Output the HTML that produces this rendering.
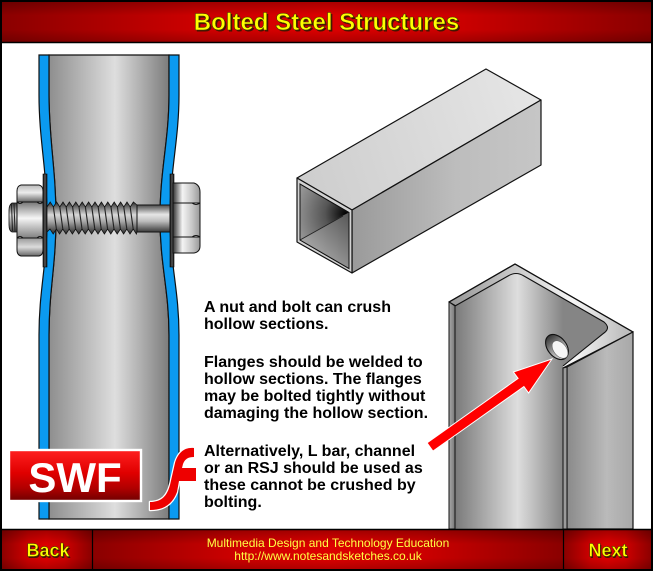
<!DOCTYPE html>
<html><head><meta charset="utf-8">
<style>
html,body{margin:0;padding:0;background:#fff;}
svg{display:block;}
text{font-family:"Liberation Sans",Arial,Helvetica,sans-serif;}
</style></head><body>
<svg width="653" height="571" viewBox="0 0 653 571" xmlns="http://www.w3.org/2000/svg">
<defs>
 <linearGradient id="hdr" x1="0" y1="0" x2="1" y2="0">
  <stop offset="0" stop-color="#8a0000"/><stop offset="0.3" stop-color="#cc0000"/><stop offset="0.5" stop-color="#dc0000"/><stop offset="0.7" stop-color="#cc0000"/><stop offset="1" stop-color="#8a0000"/>
 </linearGradient>
 <linearGradient id="hdrV" x1="0" y1="0" x2="0" y2="1">
  <stop offset="0" stop-color="#000" stop-opacity="0.25"/><stop offset="0.35" stop-color="#000" stop-opacity="0"/><stop offset="0.7" stop-color="#000" stop-opacity="0"/><stop offset="1" stop-color="#000" stop-opacity="0.2"/>
 </linearGradient>
 <linearGradient id="pipe" gradientUnits="userSpaceOnUse" x1="49" y1="0" x2="169" y2="0">
  <stop offset="0" stop-color="#8e8e8e"/><stop offset="0.55" stop-color="#dedede"/><stop offset="1" stop-color="#7c7c7c"/>
 </linearGradient>
 <linearGradient id="lface" gradientUnits="userSpaceOnUse" x1="455" y1="0" x2="563" y2="0">
  <stop offset="0" stop-color="#7a7a7a"/><stop offset="0.58" stop-color="#dedede"/><stop offset="1" stop-color="#858585"/>
 </linearGradient>
 <linearGradient id="rface" gradientUnits="userSpaceOnUse" x1="567" y1="0" x2="633" y2="0">
  <stop offset="0" stop-color="#8a8a8a"/><stop offset="0.6" stop-color="#bababa"/><stop offset="1" stop-color="#a8a8a8"/>
 </linearGradient>
 <linearGradient id="lstrip" gradientUnits="userSpaceOnUse" x1="449" y1="0" x2="455" y2="0">
  <stop offset="0" stop-color="#a8a8a8"/><stop offset="1" stop-color="#777"/>
 </linearGradient>
 <linearGradient id="rim" gradientUnits="userSpaceOnUse" x1="455" y1="0" x2="625" y2="0">
  <stop offset="0" stop-color="#9a9a9a"/><stop offset="0.4" stop-color="#d0d0d0"/><stop offset="0.7" stop-color="#f6f6f6"/><stop offset="1" stop-color="#bdbdbd"/>
 </linearGradient>
 <linearGradient id="hole" x1="0" y1="0" x2="1" y2="0">
  <stop offset="0" stop-color="#333"/><stop offset="0.6" stop-color="#aaa"/><stop offset="1" stop-color="#ddd"/>
 </linearGradient>
 <linearGradient id="boxTop" gradientUnits="userSpaceOnUse" x1="297" y1="178" x2="541" y2="100">
  <stop offset="0" stop-color="#cdcdcd"/><stop offset="1" stop-color="#e6e6e6"/>
 </linearGradient>
 <linearGradient id="boxSide" gradientUnits="userSpaceOnUse" x1="352" y1="0" x2="541" y2="0">
  <stop offset="0" stop-color="#9a9a9a"/><stop offset="0.55" stop-color="#bdbdbd"/><stop offset="1" stop-color="#c6c6c6"/>
 </linearGradient>
 <radialGradient id="boxIn" gradientUnits="userSpaceOnUse" cx="346" cy="214" r="60">
  <stop offset="0" stop-color="#000"/><stop offset="0.35" stop-color="#555"/><stop offset="1" stop-color="#aaa"/>
 </radialGradient>
 <linearGradient id="boxFloor" gradientUnits="userSpaceOnUse" x1="305" y1="255" x2="348" y2="215">
  <stop offset="0" stop-color="#b0b0b0"/><stop offset="1" stop-color="#5a5a5a"/>
 </linearGradient>
 <linearGradient id="swf" x1="0" y1="0" x2="0" y2="1">
  <stop offset="0" stop-color="#ff2020"/><stop offset="0.45" stop-color="#e00000"/><stop offset="0.75" stop-color="#b00000"/><stop offset="1" stop-color="#700000"/>
 </linearGradient>
 <linearGradient id="nutTop" x1="0" y1="0" x2="0" y2="1">
  <stop offset="0" stop-color="#bbb"/><stop offset="0.45" stop-color="#ececec"/><stop offset="1" stop-color="#666"/>
 </linearGradient>
 <linearGradient id="nutMid" x1="0" y1="0" x2="0" y2="1">
  <stop offset="0" stop-color="#777"/><stop offset="0.45" stop-color="#f6f6f6"/><stop offset="1" stop-color="#808080"/>
 </linearGradient>
 <linearGradient id="nutBot" x1="0" y1="0" x2="0" y2="1">
  <stop offset="0" stop-color="#999"/><stop offset="0.5" stop-color="#dcdcdc"/><stop offset="1" stop-color="#666"/>
 </linearGradient>
 <linearGradient id="head" gradientUnits="userSpaceOnUse" x1="173" y1="0" x2="200" y2="0">
  <stop offset="0" stop-color="#333"/><stop offset="0.35" stop-color="#f4f4f4"/><stop offset="0.7" stop-color="#c8c8c8"/><stop offset="1" stop-color="#999"/>
 </linearGradient>
 <linearGradient id="shank" gradientUnits="userSpaceOnUse" x1="0" y1="205" x2="0" y2="232">
  <stop offset="0" stop-color="#4a4a4a"/><stop offset="0.35" stop-color="#e6e6e6"/><stop offset="0.6" stop-color="#bdbdbd"/><stop offset="1" stop-color="#3a3a3a"/>
 </linearGradient>
 <linearGradient id="thread" gradientUnits="userSpaceOnUse" x1="0" y1="202" x2="0" y2="234">
  <stop offset="0" stop-color="#2a2a2a"/><stop offset="0.4" stop-color="#d8d8d8"/><stop offset="0.6" stop-color="#aaaaaa"/><stop offset="1" stop-color="#2a2a2a"/>
 </linearGradient>
 <linearGradient id="washer" x1="0" y1="0" x2="1" y2="0">
  <stop offset="0" stop-color="#111"/><stop offset="0.5" stop-color="#555"/><stop offset="1" stop-color="#111"/>
 </linearGradient>
</defs>

<!-- page frame -->
<rect x="1" y="1" width="651" height="569" fill="#fff" stroke="#000" stroke-width="2"/>

<!-- ===== Pipe ===== -->
<path d="M49,55 L169,55 L169,95 C169,140 160,170 160,218 C160,265 169,290 169,335 L169,519 L49,519 L49,335 C49,290 56,265 56,218 C56,170 49,140 49,95 Z" fill="url(#pipe)" stroke="#111" stroke-width="1.2"/>
<path d="M39,55 L49,55 L49,95 C49,140 56,170 56,218 C56,265 49,290 49,335 L49,519 L39,519 L39,335 C39,290 47,265 47,218 C47,170 39,140 39,95 Z" fill="#0b9af0" stroke="#111" stroke-width="1.2"/>
<path d="M169,55 L179,55 L179,95 C179,140 170,170 170,218 C170,265 179,290 179,335 L179,519 L169,519 L169,335 C169,290 160,265 160,218 C160,170 169,140 169,95 Z" fill="#0b9af0" stroke="#111" stroke-width="1.2"/>

<!-- washers -->
<rect x="43" y="174" width="4" height="93" fill="url(#washer)" stroke="#000" stroke-width="0.6"/>
<rect x="170" y="174" width="4" height="93" fill="url(#washer)" stroke="#000" stroke-width="0.6"/>

<!-- threaded part -->
<path d="M47,207 L50.2,202 L53.4,207 L56.6,202 L59.8,207 L63,202 L66.2,207 L69.4,202 L72.6,207 L75.8,202 L79,207 L82.2,202 L85.4,207 L88.6,202 L91.8,207 L95,202 L98.2,207 L101.4,202 L104.6,207 L107.8,202 L111,207 L114.2,202 L117.4,207 L120.6,202 L123.8,207 L127,202 L130.2,207 L133.4,202 L137,205 L137,232 L136.4,234 L133.2,229 L130,234 L126.8,229 L123.6,234 L120.4,229 L117.2,234 L114,229 L110.8,234 L107.6,229 L104.4,234 L101.2,229 L98,234 L94.8,229 L91.6,234 L88.4,229 L85.2,234 L82,229 L78.8,234 L75.6,229 L72.4,234 L69.2,229 L66,234 L62.8,229 L59.6,234 L56.4,229 L53.2,234 L50,229 L47,232 Z" fill="url(#thread)" stroke="#111" stroke-width="0.8"/>
<g stroke="#222" stroke-width="1.1">
 <line x1="53.4" y1="207" x2="56.4" y2="229"/><line x1="59.8" y1="207" x2="62.8" y2="229"/><line x1="66.2" y1="207" x2="69.2" y2="229"/><line x1="72.6" y1="207" x2="75.6" y2="229"/><line x1="79" y1="207" x2="82" y2="229"/><line x1="85.4" y1="207" x2="88.4" y2="229"/><line x1="91.8" y1="207" x2="94.8" y2="229"/><line x1="98.2" y1="207" x2="101.2" y2="229"/><line x1="104.6" y1="207" x2="107.6" y2="229"/><line x1="111" y1="207" x2="114" y2="229"/><line x1="117.4" y1="207" x2="120.4" y2="229"/><line x1="123.8" y1="207" x2="126.8" y2="229"/><line x1="130.2" y1="207" x2="133.2" y2="229"/>
</g>
<!-- plain shank -->
<rect x="137" y="205" width="33" height="27" fill="url(#shank)" stroke="#111" stroke-width="1"/>

<!-- bolt end sticking out left -->
<path d="M17,203 L12,203 Q9,205 9,210 L9,225 Q9,231 12,232 L17,232 Z" fill="url(#thread)" stroke="#111" stroke-width="0.8"/>
<g stroke="#222" stroke-width="1"><line x1="11.5" y1="204" x2="12.5" y2="231"/><line x1="14" y1="203" x2="15" y2="232"/></g>

<!-- left nut -->
<path d="M21,185 L39,185 Q43,186 43,191 L43,202 L17,202 L17,191 Q17,186 21,185 Z" fill="url(#nutTop)" stroke="#111" stroke-width="1"/>
<path d="M17,202 Q20,205 23,202 L37,202 Q40,205 43,202 L43,238 Q40,235 37,238 L23,238 Q20,235 17,238 Z" fill="url(#nutMid)" stroke="#111" stroke-width="1"/>
<path d="M17,238 L43,238 L43,250 Q43,255 39,256 L21,256 Q17,255 17,250 Z" fill="url(#nutBot)" stroke="#111" stroke-width="1"/>

<!-- right bolt head -->
<path d="M173,183 L194,183 Q200,185 200,192 L200,203 L173,203 Z" fill="url(#head)" stroke="#111" stroke-width="1"/>
<path d="M173,203 L192,203 Q196,206 200,203 L200,237 Q196,234 192,237 L173,237 Z" fill="url(#head)" stroke="#111" stroke-width="1"/>
<path d="M173,237 L200,237 L200,246 Q200,252 194,253 L173,253 Z" fill="url(#head)" stroke="#111" stroke-width="1"/>

<!-- ===== Hollow box section ===== -->
<path d="M297,178 L486,69 L541,100 L352,210 Z" fill="url(#boxTop)" stroke="#111" stroke-width="1.2" stroke-linejoin="round"/>
<path d="M352,210 L541,100 L541,165 L352,273 Z" fill="url(#boxSide)" stroke="#111" stroke-width="1.2" stroke-linejoin="round"/>
<path d="M297,178 L352,210 L352,273 L297,242 Z" fill="#d2d2d2" stroke="#111" stroke-width="1.2" stroke-linejoin="round"/>
<path d="M300,184 L349,212.5 L349,268.5 L300,240 Z" fill="url(#boxIn)" stroke="#111" stroke-width="1"/>
<path d="M300,240 L342,216 L349,212.5 L349,268.5 Z" fill="url(#boxFloor)"/>
<line x1="300" y1="240" x2="343" y2="216" stroke="#222" stroke-width="0.9"/>
<path d="M300,184 L349,212.5 L349,268.5 L300,240 Z" fill="none" stroke="#111" stroke-width="1"/>

<!-- ===== L bar ===== -->
<path d="M449,302 L515,264 L633,332 L563,368 Z" fill="url(#rim)" stroke="#111" stroke-width="1.2" stroke-linejoin="round"/>
<path d="M455,306 L508,276 Q516,271 524,276 L604,322 Q611,328 604,333 L563,366 L563,529 L455,529 Z" fill="url(#lface)"/>
<path d="M455,306 L508,276 Q516,271 524,276 L604,322 Q611,328 604,333 L563,366" fill="none" stroke="#111" stroke-width="1.1"/>
<path d="M449,302 L455,306 L455,529 L449,529 Z" fill="url(#lstrip)" stroke="#111" stroke-width="1"/>
<path d="M567,367 L633,332 L633,529 L567,529 Z" fill="url(#rface)" stroke="#111" stroke-width="1.2"/>
<path d="M563,368 L567,367 L567,529 L563,529 Z" fill="#9a9a9a" stroke="#111" stroke-width="1"/>
<line x1="449" y1="302" x2="515" y2="264" stroke="#111" stroke-width="1.2"/>
<line x1="515" y1="264" x2="633" y2="332" stroke="#111" stroke-width="1.2"/>
<!-- hole -->
<ellipse cx="557" cy="347" rx="14" ry="9.5" transform="rotate(52 557 347)" fill="url(#hole)" stroke="#111" stroke-width="1.1"/>
<ellipse cx="560" cy="349.5" rx="10" ry="6.3" transform="rotate(52 560 349.5)" fill="#f6f6f6" stroke="#666" stroke-width="0.6"/>

<!-- red arrow -->
<polygon points="427.1,442.9 518.1,378.4 513.4,372 552,359 528.6,393 523.9,386.6 432.9,451.1" fill="#ff0000" stroke="#fff" stroke-width="1" stroke-linejoin="miter"/>

<!-- ===== Text ===== -->
<g font-size="16" font-weight="bold" fill="#000">
 <text x="204" y="312">A nut and bolt can crush</text>
 <text x="204" y="329">hollow sections.</text>
 <text x="204" y="367">Flanges should be welded to</text>
 <text x="204" y="384">hollow sections.  The flanges</text>
 <text x="204" y="401">may be bolted tightly without</text>
 <text x="204" y="418">damaging the hollow section.</text>
 <text x="204" y="456">Alternatively, L bar, channel</text>
 <text x="204" y="473">or an RSJ should be used as</text>
 <text x="204" y="490">these cannot be crushed by</text>
 <text x="204" y="507">bolting.</text>
</g>

<!-- ===== SWF badge ===== -->
<rect x="9" y="450" width="132" height="51" fill="url(#swf)" stroke="#fff" stroke-width="2.4"/>
<text x="75" y="492" text-anchor="middle" font-size="42" font-weight="bold" fill="#fff">SWF</text>
<path d="M194,448 C184,447 178,453 175,463 L170,485 C167,496 162,501 152,502 L150,502 L150,510 C163,510 172,505 177,492 L179,481 L196,481 L196,468 L182,468 L183,464 C185,459 188,457 194,457 Z" fill="#ee0000" stroke="#fff" stroke-width="2.5" stroke-linejoin="round" paint-order="stroke"/>

<!-- ===== Header ===== -->
<rect x="1" y="1" width="651" height="41" fill="url(#hdr)"/>
<rect x="1" y="1" width="651" height="41" fill="url(#hdrV)"/>
<line x1="0" y1="42.5" x2="653" y2="42.5" stroke="#000" stroke-width="1.5"/>
<text x="328" y="31.5" text-anchor="middle" font-size="24" font-weight="bold" fill="#2a1800" opacity="0.85">Bolted Steel Structures</text>
<text x="326.5" y="30" text-anchor="middle" font-size="24" font-weight="bold" fill="#ffff00" stroke="#4a3a00" stroke-width="0.6">Bolted Steel Structures</text>

<!-- ===== Footer ===== -->
<rect x="1" y="530" width="91" height="40" fill="url(#hdr)"/>
<rect x="93" y="530" width="470" height="40" fill="url(#hdr)"/>
<rect x="564" y="530" width="88" height="40" fill="url(#hdr)"/>
<rect x="1" y="530" width="651" height="40" fill="url(#hdrV)"/>
<line x1="0" y1="529.5" x2="653" y2="529.5" stroke="#000" stroke-width="1.5"/>
<line x1="92.5" y1="529" x2="92.5" y2="571" stroke="#000" stroke-width="1.2"/>
<line x1="563.5" y1="529" x2="563.5" y2="571" stroke="#000" stroke-width="1.2"/>
<text x="49" y="558" text-anchor="middle" font-size="18" font-weight="bold" fill="#2a1800" opacity="0.85">Back</text>
<text x="48" y="556.5" text-anchor="middle" font-size="18" font-weight="bold" fill="#ffff00" stroke="#4a3a00" stroke-width="0.5">Back</text>
<text x="609" y="558" text-anchor="middle" font-size="18" font-weight="bold" fill="#2a1800" opacity="0.85">Next</text>
<text x="608" y="556.5" text-anchor="middle" font-size="18" font-weight="bold" fill="#ffff00" stroke="#4a3a00" stroke-width="0.5">Next</text>
<text x="328" y="547" text-anchor="middle" font-size="12" fill="#ffff44">Multimedia Design and Technology Education</text>
<text x="328" y="560" text-anchor="middle" font-size="12" fill="#ffff44">http://www.notesandsketches.co.uk</text>

<!-- outer frame on top -->
<rect x="1" y="1" width="651" height="569" fill="none" stroke="#000" stroke-width="2"/>
</svg>
</body></html>
